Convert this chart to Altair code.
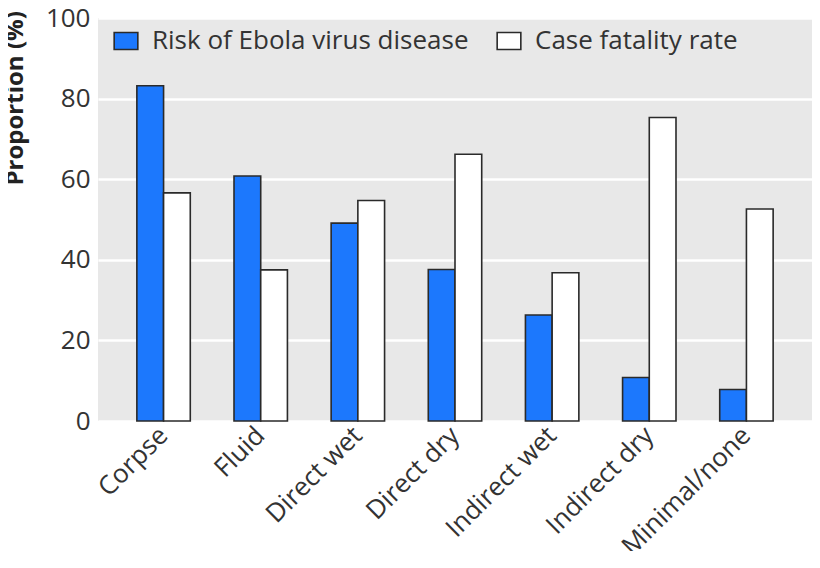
import altair as alt
import pandas as pd

categories = ["Corpse", "Fluid", "Direct wet", "Direct dry", "Indirect wet", "Indirect dry", "Minimal/none"]
series = ["Risk of Ebola virus disease", "Case fatality rate"]
risk = [83.2, 60.8, 49.1, 37.6, 26.3, 10.8, 7.8]
cfr = [56.6, 37.5, 54.7, 66.2, 36.8, 75.3, 52.6]
y_ticks = [0, 20, 40, 60, 80, 100]

rows = []
for c, r, f in zip(categories, risk, cfr):
    rows.append({"category": c, "series": series[0], "value": r})
    rows.append({"category": c, "series": series[1], "value": f})
df = pd.DataFrame(rows)

FONT = "Open Sans"
TXT = "#333333"
FS = 26

chart = (
    alt.Chart(df)
    .mark_bar(stroke="#2a2a2a", strokeWidth=1.6)
    .encode(
        x=alt.X(
            "category:N",
            sort=categories,
            scale=alt.Scale(paddingInner=0.45, paddingOuter=0.4),
            axis=alt.Axis(
                title=None,
                labelAngle=-45,
                labelAlign="right",
                labelBaseline="middle",
                labelPadding=10,
                labelFontSize=FS,
                labelColor=TXT,
                labelFont=FONT,
                labelLimit=300,
                domain=False,
                ticks=False,
            ),
        ),
        xOffset=alt.XOffset("series:N", sort=series),
        y=alt.Y(
            "value:Q",
            scale=alt.Scale(domain=[0, 100], nice=False),
            axis=alt.Axis(
                title="Proportion (%)",
                values=y_ticks,
                domain=False,
                ticks=False,
                labelPadding=8,
                labelFontSize=FS,
                labelColor=TXT,
                labelFont=FONT,
                gridColor="white",
                gridWidth=2.5,
                titleFont=FONT,
                titleFontSize=24,
                titleFontWeight="bold",
                titleColor="#222222",
                titleAngle=-90,
                titleAlign="left",
                titleBaseline="middle",
                titleX=-83,
                titleY=167,
            ),
        ),
        color=alt.Color(
            "series:N",
            sort=series,
            scale=alt.Scale(domain=series, range=["#1c78fd", "#ffffff"]),
            legend=alt.Legend(
                title=None,
                orient="none",
                legendX=15,
                legendY=10,
                direction="horizontal",
                symbolType="M-1,-0.72H1V0.72H-1Z",
                symbolSize=560,
                symbolStrokeColor="#2a2a2a",
                symbolStrokeWidth=1.6,
                labelFontSize=FS,
                labelFont=FONT,
                labelColor=TXT,
                labelOffset=13,
                columnPadding=24,
                labelLimit=400,
            ),
        ),
    )
    .properties(
        width=714,
        height=403,
        background="white",
        padding={"left": 90, "top": 10, "right": 0, "bottom": 130},
        autosize=alt.AutoSizeParams(type="none"),
    )
    .configure_view(fill="#e8e8e8", strokeWidth=0)
)

chart.save("out.html", embed_options={"renderer": "svg", "actions": False})
